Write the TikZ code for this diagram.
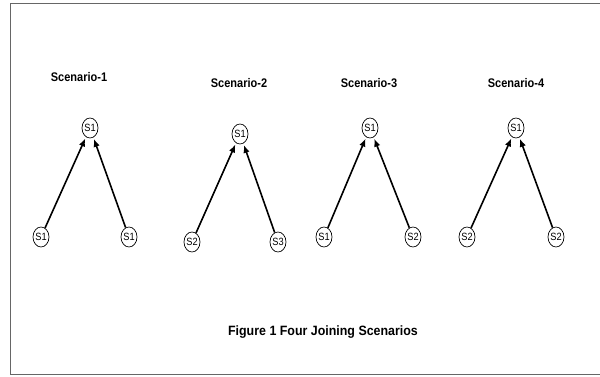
\documentclass[tikz,border=0pt]{standalone}
\usepackage{fontspec}
\setmainfont{Liberation Sans}
\newfontfamily\headfont[FakeStretch=0.88]{Liberation Sans}
\newfontfamily\capfont[FakeStretch=0.92]{Liberation Sans}
\newfontfamily\labfont[FakeStretch=0.88]{Liberation Sans}
\usetikzlibrary{shapes.geometric,arrows.meta}
\tikzset{
  state/.style={draw, ellipse, minimum width=16pt, minimum height=20pt,
    inner sep=0pt, line width=0.7pt, font=\labfont\fontsize{10.5}{11}\selectfont},
  joinarrow/.style={line width=1.6pt, -{Latex[length=8pt,width=6.5pt]}, shorten >=1.5pt},
  headline/.style={font=\headfont\bfseries\fontsize{12.5}{14}\selectfont, inner sep=0pt},
  captionline/.style={font=\capfont\bfseries\fontsize{13.5}{16}\selectfont, inner sep=0pt},
  frameline/.style={draw=black!60, line width=1pt}
}
\begin{document}
\begin{tikzpicture}[x=1pt,y=-1pt]
\useasboundingbox (0,0) rectangle (600,376);
\fill[white] (0,0) rectangle (600,376);
\draw[frameline] (10,3) rectangle (610,374);

% scenario titles
\node[headline] (h1) at (79,77) {Scenario-1};
\node[headline] (h2) at (239,83) {Scenario-2};
\node[headline] (h3) at (369,83) {Scenario-3};
\node[headline] (h4) at (516,83) {Scenario-4};

% scenario 1
\node[state] (t1) at (90,128) {S1};
\node[state] (l1) at (41,237) {S1};
\node[state] (r1) at (129,237) {S1};
% scenario 2
\node[state] (t2) at (240,134) {S1};
\node[state] (l2) at (192,242) {S2};
\node[state] (r2) at (278,242) {S3};
% scenario 3
\node[state] (t3) at (370,128) {S1};
\node[state] (l3) at (324,237) {S1};
\node[state] (r3) at (413,237) {S2};
% scenario 4
\node[state] (t4) at (516,128) {S1};
\node[state] (l4) at (467,237) {S2};
\node[state] (r4) at (556,237) {S2};

\foreach \i in {1,2,3,4}{
  \draw[joinarrow] (l\i) -- (t\i);
  \draw[joinarrow] (r\i) -- (t\i);
}

\node[captionline] (cap) at (323,332) {Figure 1 Four Joining Scenarios};
\end{tikzpicture}
\end{document}
